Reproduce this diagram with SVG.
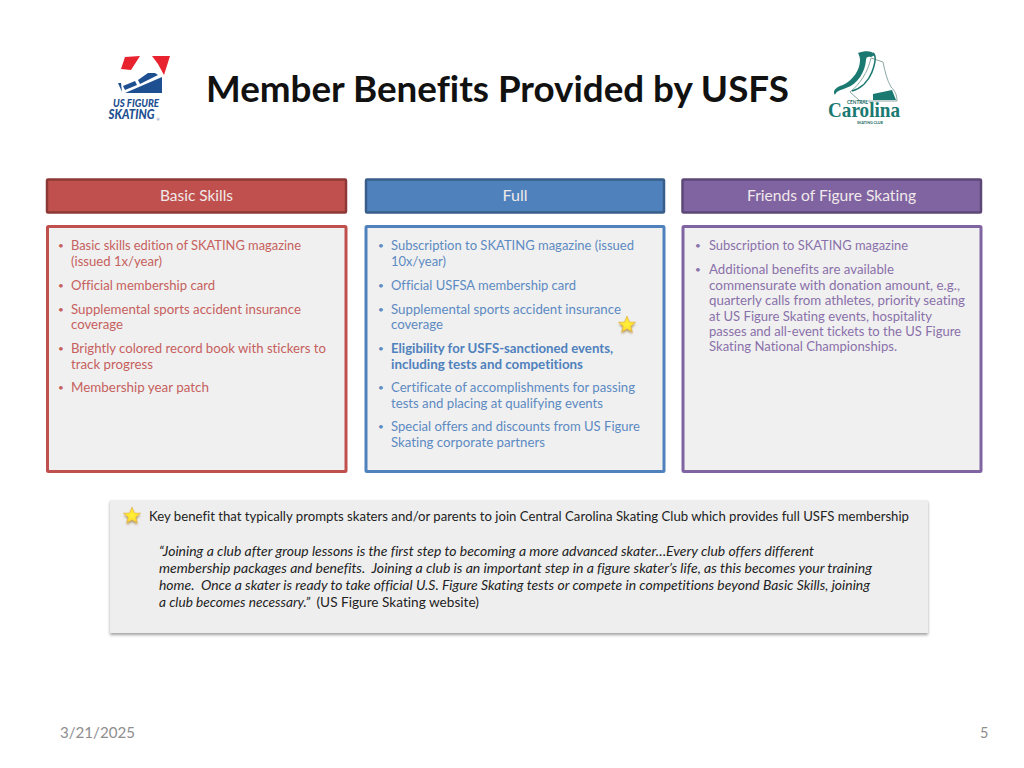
<svg xmlns="http://www.w3.org/2000/svg" width="1024" height="768" viewBox="0 0 1024 768">
<style>
text{font-family:Lato,"Open Sans",sans-serif;font-variant-ligatures:none}
.t{font-size:13px}
.r{fill:#c6605d}.b{fill:#5c8ac2}.p{fill:#8a70aa}.k{fill:#222}
.bold{font-weight:700}
.b .bold{fill:#4f81bd}
.h{font-size:14.5px;fill:#f0e9e9;text-anchor:middle}
.panel{fill:#f0f0f0;stroke-width:3}
.head{stroke-width:2.5}
.i{font-style:italic;font-size:13px;fill:#222}
.foot{font-size:14.5px;fill:#8e8e8e}
.dot{font-size:10px}
</style>
<defs>
<filter id="sh" x="-5%" y="-10%" width="110%" height="125%"><feGaussianBlur stdDeviation="1.6"/></filter>
<filter id="ss" x="-50%" y="-50%" width="200%" height="200%"><feGaussianBlur stdDeviation="1.2"/></filter>
<radialGradient id="star"><stop offset="0" stop-color="#fff23a"/><stop offset="0.7" stop-color="#ffe02e"/><stop offset="1" stop-color="#e8b53c"/></radialGradient>
<polygon id="st" points="0,-9 2.4,-3 8.6,-2.8 3.8,1.2 5.4,7.3 0,3.8 -5.4,7.3 -3.8,1.2 -8.6,-2.8 -2.4,-3"/>
</defs>
<rect width="1024" height="768" fill="#fff"/>

<g id="title"><text x="206" y="102" font-size="36" font-weight="700" fill="#111" textLength="583" lengthAdjust="spacingAndGlyphs">Member Benefits Provided by USFS</text></g>

<g id="logo-usfs">
<polygon points="125,57 140,56 131,70 121,69" fill="#e8222e"/>
<polygon points="152,56 170,56 164,75 158,64" fill="#e8222e"/>
<polygon points="125,93 162,77 162,93" fill="#1d4f91"/>
<polygon points="138,80 148,73 155,73 158,75 140,84" fill="#1d4f91"/>
<polygon points="123,86 135,81 137,85 125,90" fill="#1d4f91"/>
<polygon points="118,83 121,83 122,92" fill="#1d4f91"/>
<text x="113" y="106.5" font-size="12" font-weight="900" font-style="italic" fill="#1d4f91" textLength="46" lengthAdjust="spacingAndGlyphs">US FIGURE</text>
<text x="108.500" y="119" font-size="13" font-weight="900" font-style="italic" fill="#1d4f91" textLength="46" lengthAdjust="spacingAndGlyphs">SKATING</text>
<text x="156.500" y="121" font-size="4" fill="#1d4f91">®</text>
</g>

<g id="logo-carolina">
<path d="M871,58 L883,62 C885,72 887,80 891,87 C895,91 897,95 897,101 L860,101 L850,92 C860,84 868,72 871,58 Z" fill="#fff" stroke="#8aa8a4" stroke-width="1"/>
<path d="M858,53 C866,50 873,51 875,55 L871,57 C868,56 866,57 866,60 C865,72 858,84 846,88 C841,90 836,91 835,95 C832,91 836,87 843,85 C853,80 860,70 860,60 C860,57 859,55 858,53 Z" fill="#1a7a72"/>
<path d="M873,53 C877,56 875,64 872,72 C869,80 862,88 852,91" fill="none" stroke="#1a7a72" stroke-width="1.6"/>
<path d="M873,94 L892,90 L896,100 L873,100 Z" fill="#1a7a72"/>
<text x="847" y="103.5" font-size="5.500" font-weight="700" fill="#1a6a64" textLength="21" lengthAdjust="spacingAndGlyphs">CENTRAL</text>
<text x="828" y="117" font-size="22" font-weight="700" fill="#1a7a72" style="font-family:'Liberation Serif',serif" textLength="72" lengthAdjust="spacingAndGlyphs">Carolina</text>
<text x="857" y="123.500" font-size="4.500" font-weight="700" fill="#1a6a64" textLength="26" lengthAdjust="spacingAndGlyphs">SKATING CLUB</text>
</g>

<g id="header-basic"><rect class="head" x="47" y="179.500" width="299" height="33" rx="1" fill="#c0504d" stroke="#8c3836"/><text class="h" x="196.500" y="201" textLength="73" lengthAdjust="spacingAndGlyphs">Basic Skills</text></g>
<g id="header-full"><rect class="head" x="366" y="179.500" width="298" height="33" rx="1" fill="#4f81bd" stroke="#385d8a"/><text class="h" x="515" y="201" textLength="25" lengthAdjust="spacingAndGlyphs">Full</text></g>
<g id="header-friends"><rect class="head" x="682.500" y="179.500" width="298.500" height="33" rx="1" fill="#8064a2" stroke="#5c4776"/><text class="h" x="831.500" y="201" textLength="169" lengthAdjust="spacingAndGlyphs">Friends of Figure Skating</text></g>

<g id="panel-basic">
<rect class="panel" x="47.500" y="226.500" width="298.500" height="245" rx="1" stroke="#c0504d"/>
<g class="t r">
<text class="dot" x="58" y="249">•</text><text x="71" y="250" textLength="230" lengthAdjust="spacingAndGlyphs">Basic skills edition of SKATING magazine</text>
<text x="71" y="266" textLength="91" lengthAdjust="spacingAndGlyphs">(issued 1x/year)</text>
<text class="dot" x="58" y="289">•</text><text x="71" y="290" textLength="144" lengthAdjust="spacingAndGlyphs">Official membership card</text>
<text class="dot" x="58" y="313">•</text><text x="71" y="314" textLength="230" lengthAdjust="spacingAndGlyphs">Supplemental sports accident insurance</text>
<text x="71" y="329" textLength="52" lengthAdjust="spacingAndGlyphs">coverage</text>
<text class="dot" x="58" y="352">•</text><text x="71" y="353" textLength="255" lengthAdjust="spacingAndGlyphs">Brightly colored record book with stickers to</text>
<text x="71" y="369" textLength="82" lengthAdjust="spacingAndGlyphs">track progress</text>
<text class="dot" x="58" y="391">•</text><text x="71" y="392" textLength="138" lengthAdjust="spacingAndGlyphs">Membership year patch</text>
</g>
</g>

<g id="panel-full">
<rect class="panel" x="366" y="226.500" width="298" height="245" rx="1" stroke="#4f81bd"/>
<g class="t b">
<text class="dot" x="378" y="249">•</text><text x="391" y="250" textLength="243" lengthAdjust="spacingAndGlyphs">Subscription to SKATING magazine (issued</text>
<text x="391" y="266" textLength="55" lengthAdjust="spacingAndGlyphs">10x/year)</text>
<text class="dot" x="378" y="289">•</text><text x="391" y="290" textLength="185" lengthAdjust="spacingAndGlyphs">Official USFSA membership card</text>
<text class="dot" x="378" y="313">•</text><text x="391" y="314" textLength="230" lengthAdjust="spacingAndGlyphs">Supplemental sports accident insurance</text>
<text x="391" y="329" textLength="52" lengthAdjust="spacingAndGlyphs">coverage</text>
<text class="dot" x="378" y="352">•</text><text class="bold" x="391" y="353" textLength="222" lengthAdjust="spacingAndGlyphs">Eligibility for USFS-sanctioned events,</text>
<text class="bold" x="391" y="369" textLength="192" lengthAdjust="spacingAndGlyphs">including tests and competitions</text>
<text class="dot" x="378" y="391">•</text><text x="391" y="392" textLength="244" lengthAdjust="spacingAndGlyphs">Certificate of accomplishments for passing</text>
<text x="391" y="408" textLength="212" lengthAdjust="spacingAndGlyphs">tests and placing at qualifying events</text>
<text class="dot" x="378" y="430">•</text><text x="391" y="431" textLength="249" lengthAdjust="spacingAndGlyphs">Special offers and discounts from US Figure</text>
<text x="391" y="447" textLength="154" lengthAdjust="spacingAndGlyphs">Skating corporate partners</text>
</g>
</g>

<g id="panel-friends">
<rect class="panel" x="683" y="226.500" width="298" height="245" rx="1" stroke="#8064a2"/>
<g class="t p">
<text class="dot" x="695" y="249">•</text><text x="709" y="250" textLength="199" lengthAdjust="spacingAndGlyphs">Subscription to SKATING magazine</text>
<text class="dot" x="695" y="273">•</text><text x="709" y="274" textLength="185" lengthAdjust="spacingAndGlyphs">Additional benefits are available</text>
<text x="709" y="290" textLength="251" lengthAdjust="spacingAndGlyphs">commensurate with donation amount, e.g.,</text>
<text x="709" y="305" textLength="256" lengthAdjust="spacingAndGlyphs">quarterly calls from athletes, priority seating</text>
<text x="709" y="321" textLength="223" lengthAdjust="spacingAndGlyphs">at US Figure Skating events, hospitality</text>
<text x="709" y="336" textLength="252" lengthAdjust="spacingAndGlyphs">passes and all-event tickets to the US Figure</text>
<text x="709" y="351" textLength="188" lengthAdjust="spacingAndGlyphs">Skating National Championships.</text>
</g>
</g>

<g id="star-full"><use href="#st" x="627" y="327" fill="#b09a70" filter="url(#ss)"/><use href="#st" x="627" y="325" fill="url(#star)" stroke="#e0b040" stroke-width=".6"/></g>

<g id="key-note">
<rect x="110" y="502" width="818" height="133" fill="#a0a0a0" filter="url(#sh)"/>
<rect x="110" y="500" width="818" height="133" fill="#eeeeee"/>
<use href="#st" x="132" y="518" fill="#b09a70" filter="url(#ss)"/><use href="#st" x="132" y="516" fill="url(#star)" stroke="#e0b040" stroke-width=".6"/>
<text class="t k" x="149" y="521" textLength="760" lengthAdjust="spacingAndGlyphs">Key benefit that typically prompts skaters and/or parents to join Central Carolina Skating Club which provides full USFS membership</text>
<text class="i" x="159" y="556" textLength="655" lengthAdjust="spacingAndGlyphs">“Joining a club after group lessons is the first step to becoming a more advanced skater…Every club offers different</text>
<text class="i" x="159" y="573" textLength="713" lengthAdjust="spacingAndGlyphs" xml:space="preserve">membership packages and benefits.  Joining a club is an important step in a figure skater’s life, as this becomes your training</text>
<text class="i" x="159" y="590" textLength="711" lengthAdjust="spacingAndGlyphs" xml:space="preserve">home.  Once a skater is ready to take official U.S. Figure Skating tests or compete in competitions beyond Basic Skills, joining</text>
<text class="i" x="159" y="607" textLength="320" lengthAdjust="spacingAndGlyphs" xml:space="preserve">a club becomes necessary.”  <tspan font-style="normal">(US Figure Skating website)</tspan></text>
</g>

<g id="footer"><text class="foot" x="60" y="738" textLength="75" lengthAdjust="spacingAndGlyphs">3/21/2025</text><text class="foot" x="980" y="738">5</text></g>
</svg>
